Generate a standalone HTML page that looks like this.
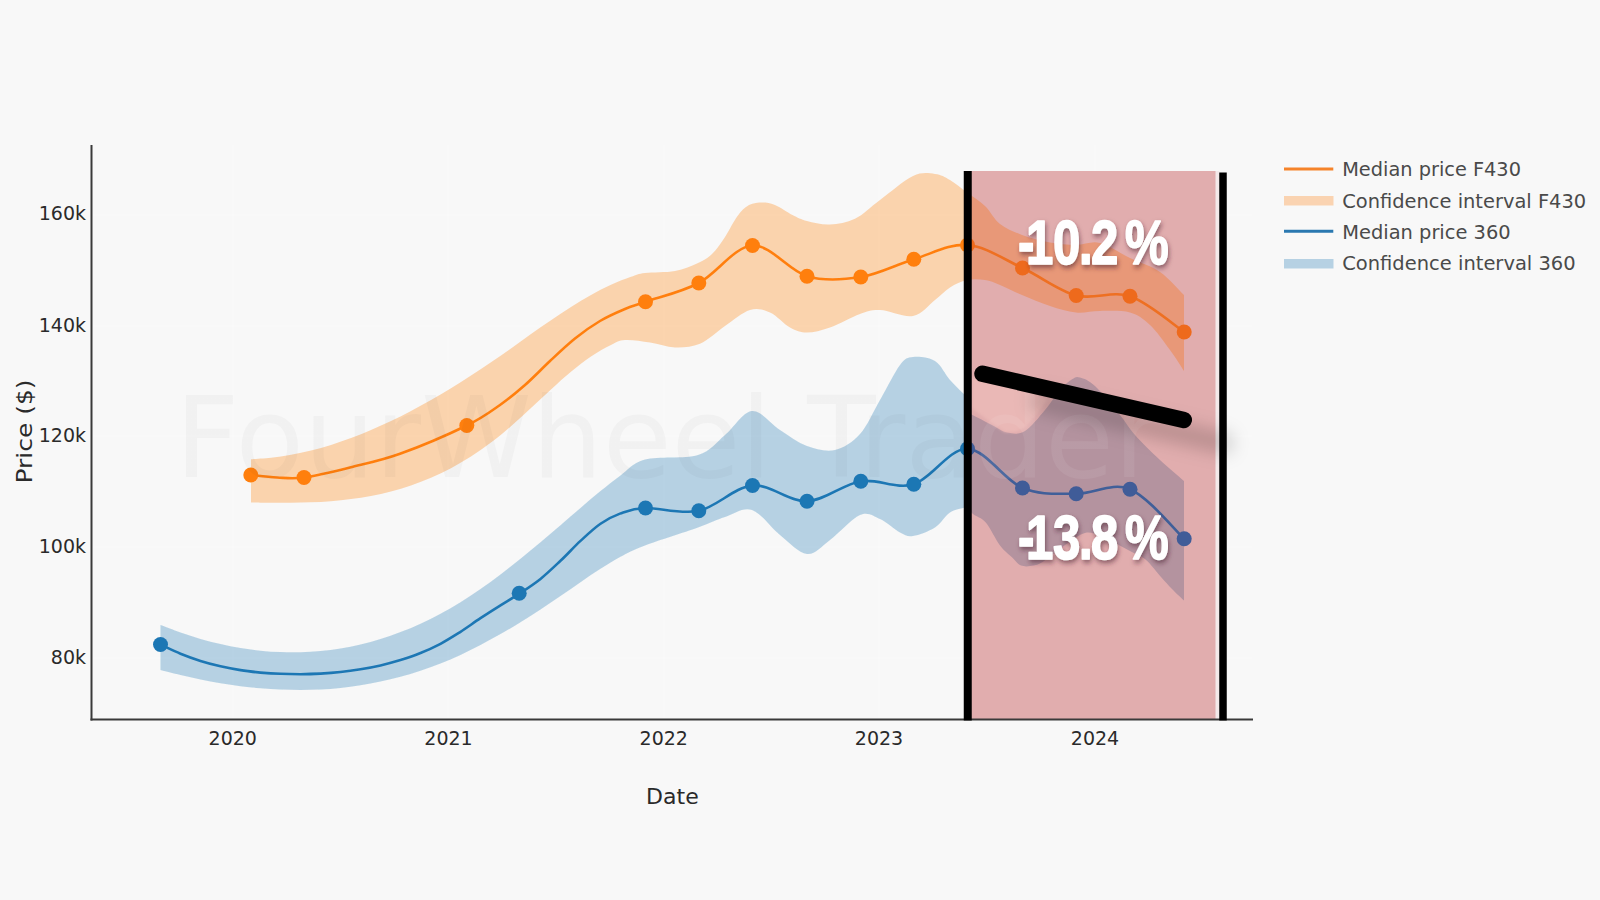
<!DOCTYPE html>
<html lang="en"><head><meta charset="utf-8"><title>Median price chart</title>
<style>html,body{margin:0;padding:0;background:#f8f8f8;}body{width:1600px;height:900px;overflow:hidden;}svg{display:block;}</style>
</head><body>
<svg width="1600" height="900" viewBox="0 0 1600 900">
<defs>
<filter id="blur1" x="-50%" y="-50%" width="200%" height="200%"><feGaussianBlur stdDeviation="0.6"/></filter>
<filter id="blur2" x="-20%" y="-20%" width="140%" height="140%"><feGaussianBlur stdDeviation="1.5"/></filter>
<filter id="shadow" x="-50%" y="-150%" width="200%" height="400%"><feGaussianBlur stdDeviation="9"/></filter>
<linearGradient id="wmg" gradientUnits="userSpaceOnUse" x1="0" y1="0" x2="1600" y2="0"><stop offset="0" stop-color="#000" stop-opacity="0.028"/><stop offset="0.605" stop-color="#000" stop-opacity="0.028"/><stop offset="0.605" stop-color="#fff" stop-opacity="0.07"/><stop offset="1" stop-color="#fff" stop-opacity="0.07"/></linearGradient>
<filter id="tds" x="-20%" y="-30%" width="140%" height="170%"><feDropShadow dx="1.5" dy="3" stdDeviation="2.6" flood-color="#4a2030" flood-opacity="0.55"/></filter>
<clipPath id="cpL"><rect x="0" y="0" width="968" height="900"/></clipPath>
<clipPath id="cpR"><rect x="968" y="0" width="632" height="900"/></clipPath>
</defs>
<rect width="1600" height="900" fill="#f8f8f8"/>
<line x1="92" x2="1252" y1="215" y2="215" stroke="#ffffff" stroke-opacity="0.22" stroke-width="2"/>
<line x1="92" x2="1252" y1="326" y2="326" stroke="#ffffff" stroke-opacity="0.22" stroke-width="2"/>
<line x1="92" x2="1252" y1="436" y2="436" stroke="#ffffff" stroke-opacity="0.22" stroke-width="2"/>
<line x1="92" x2="1252" y1="547" y2="547" stroke="#ffffff" stroke-opacity="0.22" stroke-width="2"/>
<line x1="92" x2="1252" y1="658" y2="658" stroke="#ffffff" stroke-opacity="0.22" stroke-width="2"/>
<line x1="233" x2="233" y1="145" y2="719" stroke="#ffffff" stroke-opacity="0.22" stroke-width="2"/>
<line x1="448" x2="448" y1="145" y2="719" stroke="#ffffff" stroke-opacity="0.22" stroke-width="2"/>
<line x1="664" x2="664" y1="145" y2="719" stroke="#ffffff" stroke-opacity="0.22" stroke-width="2"/>
<line x1="879" x2="879" y1="145" y2="719" stroke="#ffffff" stroke-opacity="0.22" stroke-width="2"/>
<line x1="1095" x2="1095" y1="145" y2="719" stroke="#ffffff" stroke-opacity="0.22" stroke-width="2"/>
<g filter="url(#blur1)">
<g clip-path="url(#cpL)">
<path d="M251.0 459.2C254.3 458.9 264.3 458.4 271.0 457.7C277.7 457.0 284.3 456.0 291.0 454.8C297.7 453.6 304.3 452.2 311.0 450.5C317.7 448.9 324.3 447.0 331.0 444.9C337.7 442.9 344.3 440.6 351.0 438.1C357.7 435.6 364.3 433.0 371.0 430.1C377.7 427.3 384.3 424.2 391.0 421.1C397.7 417.9 404.3 414.5 411.0 411.0C417.7 407.5 424.3 403.8 431.0 400.0C437.7 396.2 444.3 392.3 451.0 388.2C457.7 384.1 464.3 379.9 471.0 375.6C477.7 371.3 484.3 366.8 491.0 362.3C497.7 357.7 504.3 353.0 511.0 348.4C517.7 343.7 524.3 338.8 531.0 334.1C537.7 329.4 544.3 324.7 551.0 320.2C557.7 315.6 564.3 311.1 571.0 306.9C577.7 302.7 584.3 298.6 591.0 294.9C597.7 291.2 604.3 287.7 611.0 284.7C617.7 281.7 625.3 278.8 631.0 276.8C636.7 274.9 637.7 273.9 645.0 273.0C652.3 272.0 666.2 272.7 675.0 271.0C683.8 269.3 691.8 265.8 698.0 263.0C704.2 260.2 707.5 258.3 712.0 254.0C716.5 249.7 720.8 243.3 725.0 237.0C729.2 230.7 733.5 221.3 737.5 216.0C741.5 210.7 744.8 207.2 749.0 205.0C753.2 202.8 758.2 202.5 762.5 202.5C766.8 202.5 770.0 202.9 775.0 205.0C780.0 207.1 787.2 212.3 792.5 215.0C797.8 217.7 800.8 219.4 807.0 221.0C813.2 222.6 822.0 224.9 830.0 224.5C838.0 224.1 846.7 222.8 855.0 218.8C863.3 214.7 870.3 207.1 880.0 200.0C889.7 192.9 903.8 180.3 913.0 176.0C922.2 171.7 928.8 173.3 935.0 174.0C941.2 174.7 944.7 176.9 950.0 180.0C955.3 183.1 961.2 188.2 967.0 192.5C972.8 196.8 979.5 200.8 985.0 206.0C990.5 211.2 993.8 219.2 1000.0 224.0C1006.2 228.8 1013.7 231.9 1022.0 235.0C1030.3 238.1 1041.0 240.8 1050.0 242.5C1059.0 244.2 1067.7 244.9 1076.0 245.0C1084.3 245.1 1091.0 240.8 1100.0 243.0C1109.0 245.2 1120.0 253.2 1130.0 258.0C1140.0 262.8 1151.0 265.8 1160.0 272.0C1169.0 278.2 1180.0 291.2 1184.0 295.0L1184.0 371.0C1181.7 367.5 1175.7 357.7 1170.0 350.0C1164.3 342.3 1156.7 331.2 1150.0 325.0C1143.3 318.8 1138.3 314.8 1130.0 312.5C1121.7 310.2 1109.0 311.0 1100.0 311.0C1091.0 311.0 1084.3 313.3 1076.0 312.5C1067.7 311.7 1059.0 308.9 1050.0 306.0C1041.0 303.1 1030.3 298.5 1022.0 295.0C1013.7 291.5 1006.2 287.5 1000.0 285.0C993.8 282.5 990.5 280.8 985.0 280.0C979.5 279.2 972.8 278.8 967.0 280.0C961.2 281.2 955.3 284.2 950.0 287.5C944.7 290.8 941.2 295.2 935.0 300.0C928.8 304.8 922.2 314.3 913.0 316.0C903.8 317.7 888.8 310.3 880.0 310.0C871.2 309.7 868.3 311.1 860.0 314.0C851.7 316.9 838.8 324.4 830.0 327.5C821.2 330.6 813.7 332.5 807.0 332.5C800.3 332.5 796.2 330.8 790.0 327.5C783.8 324.2 776.7 315.4 770.0 312.5C763.3 309.6 757.5 307.8 750.0 310.0C742.5 312.2 733.3 320.4 725.0 326.0C716.7 331.6 708.3 340.2 700.0 343.8C691.7 347.3 683.3 347.7 675.0 347.5C666.7 347.3 658.3 343.7 650.0 342.5C641.7 341.3 631.5 339.7 625.0 340.1C618.5 340.5 616.7 342.3 611.0 345.1C605.3 347.8 597.7 352.1 591.0 356.5C584.3 361.0 577.7 366.3 571.0 371.7C564.3 377.2 557.7 383.3 551.0 389.4C544.3 395.4 537.7 401.9 531.0 408.0C524.3 414.1 517.7 420.4 511.0 426.2C504.3 432.0 497.7 437.6 491.0 442.6C484.3 447.7 477.7 452.3 471.0 456.6C464.3 460.9 457.7 464.7 451.0 468.3C444.3 471.8 437.7 475.0 431.0 477.8C424.3 480.7 417.7 483.2 411.0 485.5C404.3 487.8 397.7 489.7 391.0 491.5C384.3 493.2 377.7 494.7 371.0 496.0C364.3 497.2 357.7 498.2 351.0 499.1C344.3 500.0 337.7 500.6 331.0 501.2C324.3 501.7 317.7 502.1 311.0 502.3C304.3 502.6 297.7 502.7 291.0 502.8C284.3 502.9 277.7 502.8 271.0 502.7C264.3 502.7 254.3 502.4 251.0 502.4Z" fill="#ff7f0e" fill-opacity="0.3"/>
<path d="M160.5 625.1C163.8 626.3 173.8 630.2 180.5 632.5C187.2 634.8 193.8 637.0 200.5 638.9C207.2 640.8 213.8 642.5 220.5 644.0C227.2 645.6 233.8 646.9 240.5 648.0C247.2 649.1 253.8 650.0 260.5 650.7C267.2 651.4 273.8 651.9 280.5 652.1C287.2 652.4 293.8 652.4 300.5 652.3C307.2 652.1 313.8 651.7 320.5 651.0C327.2 650.4 333.8 649.6 340.5 648.5C347.2 647.4 353.8 646.0 360.5 644.5C367.2 642.9 373.8 641.1 380.5 639.0C387.2 637.0 393.8 634.7 400.5 632.1C407.2 629.6 413.8 626.8 420.5 623.7C427.2 620.7 433.8 617.3 440.5 613.8C447.2 610.2 453.8 606.4 460.5 602.2C467.2 598.1 473.8 593.7 480.5 589.1C487.2 584.5 493.8 579.6 500.5 574.6C507.2 569.5 513.8 564.2 520.5 558.8C527.2 553.5 533.8 547.9 540.5 542.3C547.2 536.7 553.8 531.0 560.5 525.3C567.2 519.5 573.8 513.7 580.5 508.0C587.2 502.3 593.8 496.5 600.5 491.1C607.2 485.7 613.1 480.8 620.5 475.5C627.9 470.2 632.1 463.0 645.0 459.6C657.9 456.1 684.7 459.1 698.0 455.0C711.3 450.9 716.0 442.3 725.0 435.0C734.0 427.7 742.8 411.8 752.0 411.0C761.2 410.2 770.8 424.2 780.0 430.0C789.2 435.8 797.8 442.7 807.0 446.0C816.2 449.3 826.2 452.0 835.0 450.0C843.8 448.0 852.5 442.3 860.0 434.0C867.5 425.7 873.3 411.5 880.0 400.0C886.7 388.5 894.5 372.2 900.0 365.0C905.5 357.8 907.2 357.7 913.0 357.0C918.8 356.3 928.8 357.2 935.0 361.0C941.2 364.8 944.7 374.0 950.0 380.0C955.3 386.0 964.2 394.2 967.0 397.0L967.0 507.0C964.2 507.9 955.3 509.1 950.0 512.5C944.7 515.9 941.2 523.6 935.0 527.5C928.8 531.4 918.8 535.2 913.0 536.0C907.2 536.8 905.5 535.3 900.0 532.5C894.5 529.7 886.7 521.9 880.0 519.0C873.3 516.1 868.3 511.5 860.0 515.0C851.7 518.5 838.8 533.5 830.0 540.0C821.2 546.5 815.3 554.8 807.0 554.0C798.7 553.2 789.2 542.3 780.0 535.0C770.8 527.7 761.2 513.0 752.0 510.0C742.8 507.0 734.0 514.1 725.0 517.0C716.0 519.9 711.3 522.7 698.0 527.5C684.7 532.3 657.9 540.6 645.0 545.5C632.1 550.4 627.9 552.9 620.5 556.8C613.1 560.7 607.2 564.6 600.5 568.8C593.8 573.0 587.2 577.6 580.5 582.2C573.8 586.7 567.2 591.5 560.5 596.0C553.8 600.5 547.2 605.1 540.5 609.4C533.8 613.8 527.2 618.1 520.5 622.2C513.8 626.3 507.2 630.3 500.5 634.1C493.8 637.9 487.2 641.6 480.5 645.0C473.8 648.5 467.2 651.8 460.5 654.9C453.8 657.9 447.2 660.8 440.5 663.5C433.8 666.1 427.2 668.5 420.5 670.8C413.8 673.0 407.2 675.0 400.5 676.8C393.8 678.6 387.2 680.2 380.5 681.6C373.8 683.1 367.2 684.3 360.5 685.3C353.8 686.4 347.2 687.2 340.5 687.9C333.8 688.6 327.2 689.1 320.5 689.5C313.8 689.8 307.2 690.0 300.5 690.0C293.8 690.0 287.2 689.9 280.5 689.6C273.8 689.3 267.2 688.9 260.5 688.3C253.8 687.7 247.2 687.0 240.5 686.2C233.8 685.3 227.2 684.3 220.5 683.2C213.8 682.1 207.2 680.9 200.5 679.5C193.8 678.2 187.2 676.7 180.5 675.1C173.8 673.5 163.8 670.9 160.5 670.1Z" fill="#1f77b4" fill-opacity="0.3"/>
</g>
<path d="M250.8 475.0C255.1 475.4 268.1 477.1 277.0 477.5C285.9 477.9 291.8 479.2 304.0 477.5C316.2 475.8 334.0 471.5 350.0 467.5C366.0 463.5 380.5 460.8 400.0 453.8C419.5 446.8 450.1 433.6 466.8 425.5C483.4 417.4 490.3 411.8 500.0 405.0C509.7 398.2 516.7 392.3 525.0 385.0C533.3 377.7 541.7 368.8 550.0 361.0C558.3 353.2 566.7 345.2 575.0 338.5C583.3 331.8 591.7 325.9 600.0 321.0C608.3 316.1 617.4 312.2 625.0 309.0C632.6 305.8 633.2 306.1 645.5 301.8C657.8 297.4 680.9 292.4 698.8 283.0C716.6 273.6 734.5 246.6 752.5 245.5C770.5 244.4 789.0 271.0 807.0 276.2C825.0 281.5 843.0 279.8 860.8 277.0C878.5 274.2 896.0 264.6 913.8 259.2C931.5 253.9 949.4 243.5 967.5 245.0C985.6 246.5 1004.4 259.6 1022.5 268.0C1040.6 276.4 1058.3 290.8 1076.2 295.5C1094.2 300.2 1112.0 290.2 1130.0 296.2C1148.0 302.3 1175.2 326.0 1184.2 332.0" fill="none" stroke="#ff7f0e" stroke-width="2.6" clip-path="url(#cpL)"/>
<path d="M160.5 644.6C163.8 646.1 173.8 651.0 180.5 653.7C187.2 656.4 193.8 658.8 200.5 660.9C207.2 663.0 213.8 664.7 220.5 666.3C227.2 667.8 233.8 669.1 240.5 670.1C247.2 671.2 253.8 671.9 260.5 672.6C267.2 673.2 273.8 673.6 280.5 673.8C287.2 674.1 293.8 674.2 300.5 674.2C307.2 674.1 313.8 673.9 320.5 673.6C327.2 673.2 333.8 672.7 340.5 672.0C347.2 671.3 353.8 670.4 360.5 669.3C367.2 668.2 373.8 666.9 380.5 665.4C387.2 663.8 393.8 662.0 400.5 660.0C407.2 657.9 413.8 655.7 420.5 653.0C427.2 650.3 433.8 647.3 440.5 643.8C447.2 640.2 453.8 636.0 460.5 631.8C467.2 627.5 473.8 622.6 480.5 618.2C487.2 613.8 493.8 609.6 500.5 605.4C507.2 601.2 513.8 597.4 520.5 592.9C527.2 588.5 533.8 584.2 540.5 578.9C547.2 573.5 553.8 567.1 560.5 560.8C567.2 554.5 573.8 547.1 580.5 540.9C587.2 534.7 593.9 528.2 600.5 523.7C607.1 519.1 612.5 516.3 620.0 513.6C627.5 511.0 632.4 508.5 645.5 508.0C658.6 507.5 680.9 514.5 698.8 510.8C716.6 507.0 734.5 487.1 752.5 485.5C770.5 483.9 789.0 502.0 807.0 501.2C825.0 500.5 843.0 484.1 860.8 481.2C878.5 478.4 896.0 489.7 913.8 484.2C931.5 478.8 949.4 448.1 967.5 448.8C985.6 449.4 1004.4 480.5 1022.5 488.0C1040.6 495.5 1058.3 493.5 1076.2 493.8C1094.2 494.0 1112.0 481.8 1130.0 489.2C1148.0 496.8 1175.2 530.5 1184.2 538.8" fill="none" stroke="#1f77b4" stroke-width="2.6" clip-path="url(#cpL)"/>
<circle cx="250.8" cy="475.0" r="7.5" fill="#ff7f0e"/><circle cx="304.0" cy="477.5" r="7.5" fill="#ff7f0e"/><circle cx="466.8" cy="425.5" r="7.5" fill="#ff7f0e"/><circle cx="645.5" cy="301.8" r="7.5" fill="#ff7f0e"/><circle cx="698.8" cy="283.0" r="7.5" fill="#ff7f0e"/><circle cx="752.5" cy="245.5" r="7.5" fill="#ff7f0e"/><circle cx="807.0" cy="276.2" r="7.5" fill="#ff7f0e"/><circle cx="860.8" cy="277.0" r="7.5" fill="#ff7f0e"/><circle cx="913.8" cy="259.2" r="7.5" fill="#ff7f0e"/><circle cx="967.5" cy="245.0" r="7.5" fill="#ff7f0e"/>
<circle cx="160.5" cy="644.5" r="7.5" fill="#1f77b4"/><circle cx="519.2" cy="593.2" r="7.5" fill="#1f77b4"/><circle cx="645.5" cy="508.0" r="7.5" fill="#1f77b4"/><circle cx="698.8" cy="510.8" r="7.5" fill="#1f77b4"/><circle cx="752.5" cy="485.5" r="7.5" fill="#1f77b4"/><circle cx="807.0" cy="501.2" r="7.5" fill="#1f77b4"/><circle cx="860.8" cy="481.2" r="7.5" fill="#1f77b4"/><circle cx="913.8" cy="484.2" r="7.5" fill="#1f77b4"/><circle cx="967.5" cy="448.8" r="7.5" fill="#1f77b4"/>
<rect x="971" y="171" width="245" height="548" fill="#e1adae"/>
<rect x="1215.5" y="171" width="4" height="548" fill="#f3e9ea"/>
<g clip-path="url(#cpR)">
<path d="M251.0 459.2C254.3 458.9 264.3 458.4 271.0 457.7C277.7 457.0 284.3 456.0 291.0 454.8C297.7 453.6 304.3 452.2 311.0 450.5C317.7 448.9 324.3 447.0 331.0 444.9C337.7 442.9 344.3 440.6 351.0 438.1C357.7 435.6 364.3 433.0 371.0 430.1C377.7 427.3 384.3 424.2 391.0 421.1C397.7 417.9 404.3 414.5 411.0 411.0C417.7 407.5 424.3 403.8 431.0 400.0C437.7 396.2 444.3 392.3 451.0 388.2C457.7 384.1 464.3 379.9 471.0 375.6C477.7 371.3 484.3 366.8 491.0 362.3C497.7 357.7 504.3 353.0 511.0 348.4C517.7 343.7 524.3 338.8 531.0 334.1C537.7 329.4 544.3 324.7 551.0 320.2C557.7 315.6 564.3 311.1 571.0 306.9C577.7 302.7 584.3 298.6 591.0 294.9C597.7 291.2 604.3 287.7 611.0 284.7C617.7 281.7 625.3 278.8 631.0 276.8C636.7 274.9 637.7 273.9 645.0 273.0C652.3 272.0 666.2 272.7 675.0 271.0C683.8 269.3 691.8 265.8 698.0 263.0C704.2 260.2 707.5 258.3 712.0 254.0C716.5 249.7 720.8 243.3 725.0 237.0C729.2 230.7 733.5 221.3 737.5 216.0C741.5 210.7 744.8 207.2 749.0 205.0C753.2 202.8 758.2 202.5 762.5 202.5C766.8 202.5 770.0 202.9 775.0 205.0C780.0 207.1 787.2 212.3 792.5 215.0C797.8 217.7 800.8 219.4 807.0 221.0C813.2 222.6 822.0 224.9 830.0 224.5C838.0 224.1 846.7 222.8 855.0 218.8C863.3 214.7 870.3 207.1 880.0 200.0C889.7 192.9 903.8 180.3 913.0 176.0C922.2 171.7 928.8 173.3 935.0 174.0C941.2 174.7 944.7 176.9 950.0 180.0C955.3 183.1 961.2 188.2 967.0 192.5C972.8 196.8 979.5 200.8 985.0 206.0C990.5 211.2 993.8 219.2 1000.0 224.0C1006.2 228.8 1013.7 231.9 1022.0 235.0C1030.3 238.1 1041.0 240.8 1050.0 242.5C1059.0 244.2 1067.7 244.9 1076.0 245.0C1084.3 245.1 1091.0 240.8 1100.0 243.0C1109.0 245.2 1120.0 253.2 1130.0 258.0C1140.0 262.8 1151.0 265.8 1160.0 272.0C1169.0 278.2 1180.0 291.2 1184.0 295.0L1184.0 371.0C1181.7 367.5 1175.7 357.7 1170.0 350.0C1164.3 342.3 1156.7 331.2 1150.0 325.0C1143.3 318.8 1138.3 314.8 1130.0 312.5C1121.7 310.2 1109.0 311.0 1100.0 311.0C1091.0 311.0 1084.3 313.3 1076.0 312.5C1067.7 311.7 1059.0 308.9 1050.0 306.0C1041.0 303.1 1030.3 298.5 1022.0 295.0C1013.7 291.5 1006.2 287.5 1000.0 285.0C993.8 282.5 990.5 280.8 985.0 280.0C979.5 279.2 972.8 278.8 967.0 280.0C961.2 281.2 955.3 284.2 950.0 287.5C944.7 290.8 941.2 295.2 935.0 300.0C928.8 304.8 922.2 314.3 913.0 316.0C903.8 317.7 888.8 310.3 880.0 310.0C871.2 309.7 868.3 311.1 860.0 314.0C851.7 316.9 838.8 324.4 830.0 327.5C821.2 330.6 813.7 332.5 807.0 332.5C800.3 332.5 796.2 330.8 790.0 327.5C783.8 324.2 776.7 315.4 770.0 312.5C763.3 309.6 757.5 307.8 750.0 310.0C742.5 312.2 733.3 320.4 725.0 326.0C716.7 331.6 708.3 340.2 700.0 343.8C691.7 347.3 683.3 347.7 675.0 347.5C666.7 347.3 658.3 343.7 650.0 342.5C641.7 341.3 631.5 339.7 625.0 340.1C618.5 340.5 616.7 342.3 611.0 345.1C605.3 347.8 597.7 352.1 591.0 356.5C584.3 361.0 577.7 366.3 571.0 371.7C564.3 377.2 557.7 383.3 551.0 389.4C544.3 395.4 537.7 401.9 531.0 408.0C524.3 414.1 517.7 420.4 511.0 426.2C504.3 432.0 497.7 437.6 491.0 442.6C484.3 447.7 477.7 452.3 471.0 456.6C464.3 460.9 457.7 464.7 451.0 468.3C444.3 471.8 437.7 475.0 431.0 477.8C424.3 480.7 417.7 483.2 411.0 485.5C404.3 487.8 397.7 489.7 391.0 491.5C384.3 493.2 377.7 494.7 371.0 496.0C364.3 497.2 357.7 498.2 351.0 499.1C344.3 500.0 337.7 500.6 331.0 501.2C324.3 501.7 317.7 502.1 311.0 502.3C304.3 502.6 297.7 502.7 291.0 502.8C284.3 502.9 277.7 502.8 271.0 502.7C264.3 502.7 254.3 502.4 251.0 502.4Z" fill="#e89878"/>
<path d="M967.0 412.0C970.8 414.0 983.2 420.6 990.0 424.0C996.8 427.4 1001.7 431.3 1007.5 432.5C1013.3 433.7 1018.8 434.8 1025.0 431.0C1031.2 427.2 1039.2 416.8 1045.0 410.0C1050.8 403.2 1055.4 395.2 1060.0 390.0C1064.6 384.8 1069.2 381.1 1072.5 379.0C1075.8 376.9 1076.2 376.3 1080.0 377.5C1083.8 378.7 1088.3 379.8 1095.0 386.0C1101.7 392.2 1113.3 406.8 1120.0 415.0C1126.7 423.2 1128.3 427.5 1135.0 435.0C1141.7 442.5 1151.8 452.3 1160.0 460.0C1168.2 467.7 1180.0 477.5 1184.0 481.0L1184.0 600.6C1182.0 598.7 1175.8 592.9 1172.0 589.0C1168.2 585.1 1165.4 581.9 1161.0 577.0C1156.6 572.1 1150.7 563.8 1145.5 559.5C1140.3 555.2 1135.1 553.8 1130.0 551.0C1124.9 548.2 1120.0 545.5 1115.0 543.0C1110.0 540.5 1105.0 537.7 1100.0 536.0C1095.0 534.3 1090.8 531.5 1085.0 533.0C1079.2 534.5 1071.8 540.3 1065.0 545.0C1058.2 549.7 1049.2 557.6 1044.0 561.0C1038.8 564.4 1037.3 564.8 1033.5 565.6C1029.7 566.4 1024.5 566.9 1021.0 565.6C1017.5 564.3 1016.0 561.1 1012.5 557.8C1009.0 554.4 1004.4 551.3 1000.0 545.5C995.6 539.7 990.5 528.0 986.0 522.8C981.5 517.5 976.2 516.6 973.0 514.0C969.8 511.4 968.0 508.2 967.0 507.0Z" fill="#b4939f"/>
<path d="M972 378L1000 385L1030 392L1047 400L1040 410L1025 428L1015 432L1005 432L990 422L972 408Z" fill="#eab8b6" filter="url(#blur2)"/>
<path d="M250.8 475.0C255.1 475.4 268.1 477.1 277.0 477.5C285.9 477.9 291.8 479.2 304.0 477.5C316.2 475.8 334.0 471.5 350.0 467.5C366.0 463.5 380.5 460.8 400.0 453.8C419.5 446.8 450.1 433.6 466.8 425.5C483.4 417.4 490.3 411.8 500.0 405.0C509.7 398.2 516.7 392.3 525.0 385.0C533.3 377.7 541.7 368.8 550.0 361.0C558.3 353.2 566.7 345.2 575.0 338.5C583.3 331.8 591.7 325.9 600.0 321.0C608.3 316.1 617.4 312.2 625.0 309.0C632.6 305.8 633.2 306.1 645.5 301.8C657.8 297.4 680.9 292.4 698.8 283.0C716.6 273.6 734.5 246.6 752.5 245.5C770.5 244.4 789.0 271.0 807.0 276.2C825.0 281.5 843.0 279.8 860.8 277.0C878.5 274.2 896.0 264.6 913.8 259.2C931.5 253.9 949.4 243.5 967.5 245.0C985.6 246.5 1004.4 259.6 1022.5 268.0C1040.6 276.4 1058.3 290.8 1076.2 295.5C1094.2 300.2 1112.0 290.2 1130.0 296.2C1148.0 302.3 1175.2 326.0 1184.2 332.0" fill="none" stroke="#ee6f22" stroke-width="2.6"/>
<path d="M160.5 644.6C163.8 646.1 173.8 651.0 180.5 653.7C187.2 656.4 193.8 658.8 200.5 660.9C207.2 663.0 213.8 664.7 220.5 666.3C227.2 667.8 233.8 669.1 240.5 670.1C247.2 671.2 253.8 671.9 260.5 672.6C267.2 673.2 273.8 673.6 280.5 673.8C287.2 674.1 293.8 674.2 300.5 674.2C307.2 674.1 313.8 673.9 320.5 673.6C327.2 673.2 333.8 672.7 340.5 672.0C347.2 671.3 353.8 670.4 360.5 669.3C367.2 668.2 373.8 666.9 380.5 665.4C387.2 663.8 393.8 662.0 400.5 660.0C407.2 657.9 413.8 655.7 420.5 653.0C427.2 650.3 433.8 647.3 440.5 643.8C447.2 640.2 453.8 636.0 460.5 631.8C467.2 627.5 473.8 622.6 480.5 618.2C487.2 613.8 493.8 609.6 500.5 605.4C507.2 601.2 513.8 597.4 520.5 592.9C527.2 588.5 533.8 584.2 540.5 578.9C547.2 573.5 553.8 567.1 560.5 560.8C567.2 554.5 573.8 547.1 580.5 540.9C587.2 534.7 593.9 528.2 600.5 523.7C607.1 519.1 612.5 516.3 620.0 513.6C627.5 511.0 632.4 508.5 645.5 508.0C658.6 507.5 680.9 514.5 698.8 510.8C716.6 507.0 734.5 487.1 752.5 485.5C770.5 483.9 789.0 502.0 807.0 501.2C825.0 500.5 843.0 484.1 860.8 481.2C878.5 478.4 896.0 489.7 913.8 484.2C931.5 478.8 949.4 448.1 967.5 448.8C985.6 449.4 1004.4 480.5 1022.5 488.0C1040.6 495.5 1058.3 493.5 1076.2 493.8C1094.2 494.0 1112.0 481.8 1130.0 489.2C1148.0 496.8 1175.2 530.5 1184.2 538.8" fill="none" stroke="#3f5f99" stroke-width="2.6"/>
<circle cx="967.5" cy="245.0" r="7.5" fill="#ee6a1c"/><circle cx="1022.5" cy="268.0" r="7.5" fill="#ee6a1c"/><circle cx="1076.2" cy="295.5" r="7.5" fill="#ee6a1c"/><circle cx="1130.0" cy="296.2" r="7.5" fill="#ee6a1c"/><circle cx="1184.2" cy="332.0" r="7.5" fill="#ee6a1c"/>
<circle cx="967.5" cy="448.8" r="7.5" fill="#3f5b98"/><circle cx="1022.5" cy="488.0" r="7.5" fill="#3f5b98"/><circle cx="1076.2" cy="493.8" r="7.5" fill="#3f5b98"/><circle cx="1130.0" cy="489.2" r="7.5" fill="#3f5b98"/><circle cx="1184.2" cy="538.8" r="7.5" fill="#3f5b98"/>
</g>
</g>
<text x="175" y="477" font-family="'DejaVu Sans','Liberation Sans',sans-serif" font-size="112" fill="url(#wmg)">FourWheel Trader</text>
<line x1="1040" y1="401" x2="1223" y2="443" stroke="#000" stroke-opacity="0.19" stroke-width="20" stroke-linecap="round" filter="url(#shadow)"/>
<rect x="90.5" y="145" width="2" height="575.5" fill="#3a3a3a"/>
<rect x="90.5" y="718.5" width="1162.5" height="2" fill="#3a3a3a"/>
<rect x="963.75" y="171" width="8" height="549.5" fill="#000"/>
<rect x="1219.25" y="172.5" width="7.5" height="548" fill="#000"/>
<line x1="982.5" y1="373.75" x2="1183.75" y2="420" stroke="#000" stroke-width="16.5" stroke-linecap="round"/>
<text x="86" y="220" text-anchor="end" font-family="'DejaVu Sans','Liberation Sans',sans-serif" font-size="19" fill="#2a2a2a">160k</text>
<text x="86" y="332" text-anchor="end" font-family="'DejaVu Sans','Liberation Sans',sans-serif" font-size="19" fill="#2a2a2a">140k</text>
<text x="86" y="442" text-anchor="end" font-family="'DejaVu Sans','Liberation Sans',sans-serif" font-size="19" fill="#2a2a2a">120k</text>
<text x="86" y="553" text-anchor="end" font-family="'DejaVu Sans','Liberation Sans',sans-serif" font-size="19" fill="#2a2a2a">100k</text>
<text x="86" y="664" text-anchor="end" font-family="'DejaVu Sans','Liberation Sans',sans-serif" font-size="19" fill="#2a2a2a">80k</text>
<text x="232.75" y="744.5" text-anchor="middle" font-family="'DejaVu Sans','Liberation Sans',sans-serif" font-size="19" fill="#2a2a2a">2020</text>
<text x="448.50" y="744.5" text-anchor="middle" font-family="'DejaVu Sans','Liberation Sans',sans-serif" font-size="19" fill="#2a2a2a">2021</text>
<text x="663.75" y="744.5" text-anchor="middle" font-family="'DejaVu Sans','Liberation Sans',sans-serif" font-size="19" fill="#2a2a2a">2022</text>
<text x="879.00" y="744.5" text-anchor="middle" font-family="'DejaVu Sans','Liberation Sans',sans-serif" font-size="19" fill="#2a2a2a">2023</text>
<text x="1095.00" y="744.5" text-anchor="middle" font-family="'DejaVu Sans','Liberation Sans',sans-serif" font-size="19" fill="#2a2a2a">2024</text>
<text x="672.4" y="803.75" text-anchor="middle" font-family="'DejaVu Sans','Liberation Sans',sans-serif" font-size="22" fill="#2a2a2a">Date</text>
<text transform="translate(32,431.5) rotate(-90)" text-anchor="middle" textLength="104" lengthAdjust="spacingAndGlyphs" font-family="'DejaVu Sans','Liberation Sans',sans-serif" font-size="22" fill="#2a2a2a">Price ($)</text>
<line x1="1284" x2="1333.3" y1="169" y2="169" stroke="#f5832a" stroke-width="3"/>
<rect x="1284" y="196" width="49.5" height="9.5" fill="#ff7f0e" fill-opacity="0.3"/>
<line x1="1284" x2="1333.3" y1="231.3" y2="231.3" stroke="#2a78b0" stroke-width="3"/>
<rect x="1284" y="259" width="49.5" height="9.5" fill="#1f77b4" fill-opacity="0.3"/>
<text x="1342.2" y="176.3" textLength="178.8" lengthAdjust="spacingAndGlyphs" font-family="'DejaVu Sans','Liberation Sans',sans-serif" font-size="19" fill="#4a4a4a">Median price F430</text>
<text x="1342.2" y="207.6" textLength="244.0" lengthAdjust="spacingAndGlyphs" font-family="'DejaVu Sans','Liberation Sans',sans-serif" font-size="19" fill="#4a4a4a">Confidence interval F430</text>
<text x="1342.2" y="238.8" textLength="168.5" lengthAdjust="spacingAndGlyphs" font-family="'DejaVu Sans','Liberation Sans',sans-serif" font-size="19" fill="#4a4a4a">Median price 360</text>
<text x="1342.2" y="270.2" textLength="233.5" lengthAdjust="spacingAndGlyphs" font-family="'DejaVu Sans','Liberation Sans',sans-serif" font-size="19" fill="#4a4a4a">Confidence interval 360</text>
<text transform="scale(0.78,1)" x="1305.13 1315.38 1350.00 1383.33 1398.72 1442.31" y="264.40" font-family="'Liberation Sans','DejaVu Sans',sans-serif" font-weight="bold" font-size="63" fill="#fff" stroke="#fff" stroke-width="1.6" stroke-linejoin="round" filter="url(#tds)">-10.2%</text>
<text transform="scale(0.78,1)" x="1305.13 1315.38 1350.00 1383.33 1398.72 1442.31" y="558.80" font-family="'Liberation Sans','DejaVu Sans',sans-serif" font-weight="bold" font-size="63" fill="#fff" stroke="#fff" stroke-width="1.6" stroke-linejoin="round" filter="url(#tds)">-13.8%</text>
</svg>
</body></html>
